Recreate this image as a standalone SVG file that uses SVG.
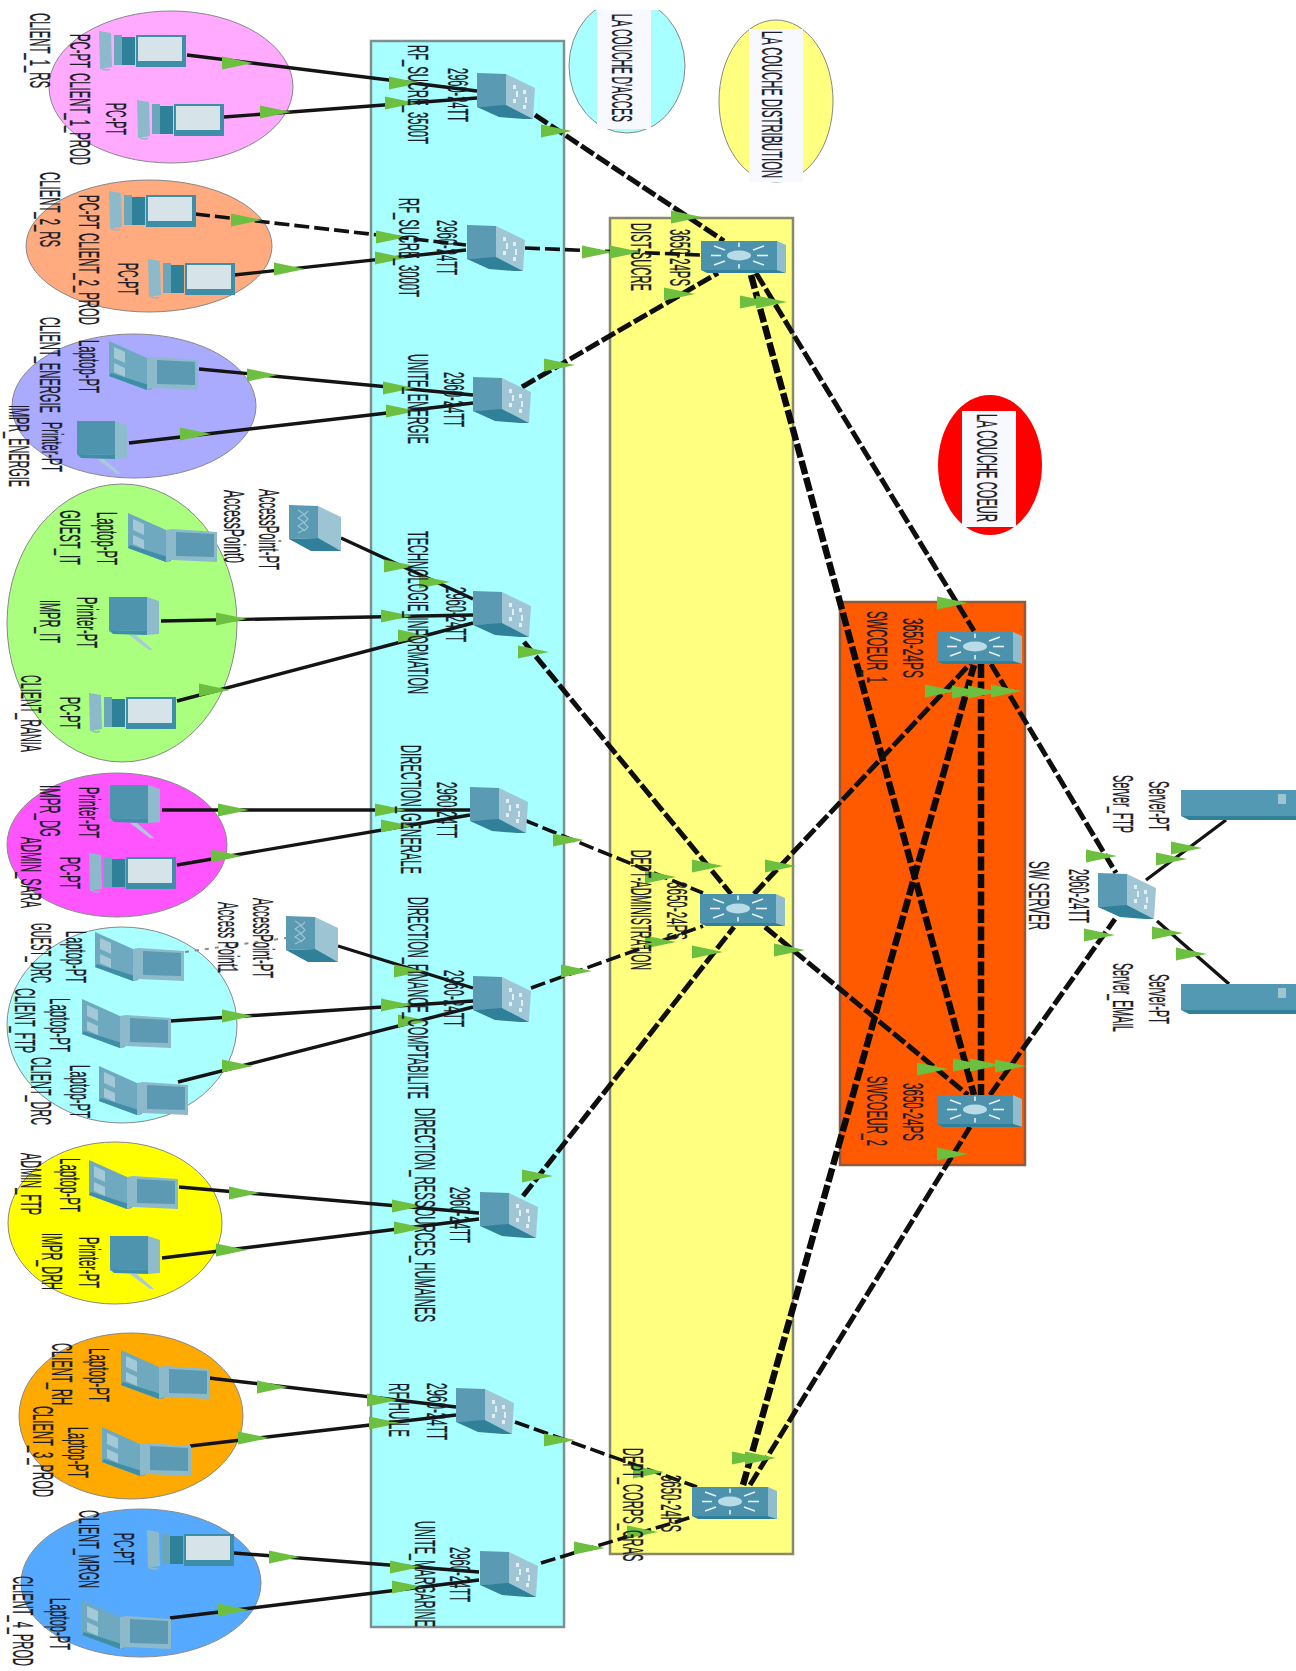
<svg xmlns="http://www.w3.org/2000/svg" width="1296" height="1671" viewBox="0 0 1296 1671">
<style>
text{font-family:"Liberation Sans",Arial,sans-serif;font-size:29px;fill:#1c1c28;stroke:#1c1c28;stroke-width:.3}
.z{stroke-width:2.5}
.e{stroke:#888;stroke-width:1}
.s{stroke:#141414;stroke-width:3.4;fill:none}
.d{stroke:#0f0f0f;stroke-width:5;fill:none;stroke-dasharray:15 3.5}
.t{stroke:#111;stroke-width:3.6;fill:none;stroke-dasharray:15 5}
.h{stroke:#0a0a0a;stroke-width:6.5;fill:none;stroke-dasharray:14 3.5}
.b{fill:#f8f8ff}
</style>
<defs>
<polygon id="t" points="0,-6.5 31,0 0,6.5" fill="#6cbf3f"/>
<g id="sw">
<polygon points="0,0 29,1 29,33 0,34" fill="#5a9ab3"/>
<polygon points="29,1 58,15 56,46 29,32" fill="#a0c6d5"/>
<polygon points="0,34 29,32 56,46 47,46 22,44" fill="#2f8098"/>
<g fill="#e4eff4"><rect x="36" y="12" width="3" height="4"/><rect x="46" y="17" width="3" height="4"/><rect x="36" y="26" width="3" height="4"/><rect x="46" y="32" width="3" height="4"/><rect x="39" y="18" width="2" height="6"/><rect x="48" y="24" width="2" height="6"/></g>
</g>
<g id="l3">
<rect x="0" y="0" width="76" height="29" fill="#4c92ad"/>
<polygon points="76,0 85,4 85,32 76,29" fill="#8fbdcc"/>
<polygon points="0,29 76,29 85,32 6,32" fill="#2f8098"/>
<ellipse cx="38" cy="14.5" rx="12" ry="5" fill="#b9dbe6"/>
<g stroke="#e6f1f5" stroke-width="1.6"><line x1="38" y1="1.5" x2="38" y2="6"/><line x1="38" y1="23" x2="38" y2="27.5"/><line x1="10" y1="14.5" x2="20" y2="14.5"/><line x1="56" y1="14.5" x2="67" y2="14.5"/><line x1="13" y1="5" x2="24" y2="9"/><line x1="63" y1="5" x2="52" y2="9"/><line x1="13" y1="24" x2="24" y2="20"/><line x1="63" y1="24" x2="52" y2="20"/></g>
</g>
<g id="pc">
<polygon points="0,0 12,2 13,36 1,38" fill="#8dbacb"/>
<rect x="15" y="4" width="8" height="30" fill="#6aa7bb"/>
<rect x="23" y="6" width="13" height="28" fill="#2f8199"/>
<rect x="37" y="4" width="50" height="32" fill="#3f8ea8"/>
<rect x="39" y="6" width="44" height="24" fill="#d6e4ea"/>
<path d="M3 38q6 2 8 0" stroke="#8dbacb" stroke-width="1.5" fill="none"/>
</g>
<g id="lp">
<polygon points="0,0 38,17 38,49 0,35" fill="#6ea9bf"/>
<polygon points="5,6 16,11 16,22 5,17" fill="#a4c9d6"/>
<polygon points="5,22 16,27 16,36 5,31" fill="#a4c9d6"/>
<polygon points="0,35 38,49 43,48 43,45 2,32" fill="#3f8ea8"/>
<polygon points="38,17 44,16 44,47 38,49" fill="#8dbacb"/>
<polygon points="44,16 89,19 89,49 44,47" fill="#8dbacb"/>
<polygon points="48,19 86,21 86,44 48,43" fill="#5b9ab2"/>
</g>
<g id="pr">
<polygon points="0,0 38,0 50,4 50,37 38,38 0,35" fill="#8fbccc"/>
<polygon points="0,0 38,0 38,34 0,33" fill="#4f94ae"/>
<polygon points="0,33 38,34 38,38 4,37" fill="#3f8ea8"/>
<polygon points="20,38 27,38 44,53 40,53" fill="#a8cbd7"/>
</g>
<g id="ap">
<polygon points="0,0 29,1 29,33 0,34" fill="#5a9ab3"/>
<polygon points="29,1 52,12 52,46 29,34" fill="#9cc4d3"/>
<polygon points="0,34 29,33 52,46 22,46" fill="#2f8098"/>
<path d="M9 5l6 4-6 4 6 4-6 4 6 4-6 3M19 6l-4 4 4 4-4 4 4 4-4 4" stroke="#9cc4d3" stroke-width="1.2" fill="none"/>
</g>
<g id="sv">
<rect x="0" y="0" width="115" height="26" fill="#5499b3"/>
<polygon points="0,26 115,26 115,30 8,30" fill="#2f8098"/>
<rect x="97" y="4" width="8" height="10" fill="#9cc4d3"/>
</g>
</defs>

<g id="zones">
<rect class="z" x="371" y="41" width="193" height="1586" fill="#a8ffff" stroke="#7f9090"/>
<rect class="z" x="610" y="218" width="183" height="1336" fill="#ffff80" stroke="#88886a"/>
<rect class="z" x="840" y="602" width="185" height="563" fill="#ff5a00" stroke="#925a3a"/>
</g>

<g id="groups">
<ellipse class="e" cx="171" cy="87" rx="122" ry="76" fill="#ffaaff"/>
<ellipse class="e" cx="149" cy="246" rx="123" ry="66" fill="#ffaa7f"/>
<ellipse class="e" cx="134" cy="406" rx="122" ry="72" fill="#aaaaff"/>
<ellipse class="e" cx="122" cy="623" rx="115" ry="139" fill="#aaff7f"/>
<ellipse class="e" cx="117" cy="845" rx="110" ry="72" fill="#ff55ff"/>
<ellipse class="e" cx="122" cy="1025" rx="115" ry="98" fill="#aaffff"/>
<ellipse class="e" cx="115" cy="1223" rx="107" ry="81" fill="#ffff00"/>
<ellipse class="e" cx="131" cy="1416" rx="112" ry="83" fill="#ffaa00"/>
<ellipse class="e" cx="141" cy="1583" rx="120" ry="74" fill="#55aaff"/>
</g>

<g id="legend-access">
<ellipse class="e" cx="627" cy="66" rx="58" ry="67" fill="#a8ffff"/>
<rect x="560" y="0" width="130" height="10" fill="#fff"/>
<rect class="b" x="597" y="10" width="54" height="119"/>
<text transform="translate(612 14) rotate(90)" textLength="108" lengthAdjust="spacingAndGlyphs">LA COUCHE D'ACCES</text>
</g>
<g id="legend-distribution">
<ellipse class="e" cx="776" cy="101" rx="57" ry="81" fill="#ffff80"/>
<rect class="b" x="749" y="29" width="54" height="153"/>
<text transform="translate(762 31) rotate(90)" textLength="147" lengthAdjust="spacingAndGlyphs">LA COUCHE DISTRIBUTION</text>
</g>
<g id="legend-core">
<ellipse cx="990" cy="465" rx="52" ry="70" fill="#ff0000"/>
<rect class="b" x="962" y="411" width="54" height="116"/>
<text transform="translate(977 414) rotate(90)" textLength="108" lengthAdjust="spacingAndGlyphs">LA COUCHE COEUR</text>
</g>

<g id="connectors">
<line class="s" x1="187" y1="55" x2="477" y2="91"/>
<line class="s" x1="224" y1="117" x2="477" y2="98"/>
<line class="t" x1="195" y1="214" x2="466" y2="245"/>
<line class="s" x1="234" y1="275" x2="466" y2="250"/>
<line class="s" x1="199" y1="369" x2="473" y2="395"/>
<line class="s" x1="129" y1="443" x2="473" y2="403"/>
<line class="s" x1="341" y1="538" x2="473" y2="599"/>
<line class="s" x1="161" y1="621" x2="473" y2="615"/>
<line class="s" x1="177" y1="701" x2="473" y2="623"/>
<line class="s" x1="162" y1="810" x2="470" y2="810"/>
<line class="s" x1="177" y1="865" x2="470" y2="815"/>
<line class="s" x1="338" y1="946" x2="473" y2="988"/>
<line class="s" x1="170" y1="1021" x2="473" y2="1001"/>
<line class="s" x1="178" y1="1082" x2="473" y2="1007"/>
<line class="s" x1="179" y1="1187" x2="479" y2="1213"/>
<line class="s" x1="162" y1="1258" x2="479" y2="1219"/>
<line class="s" x1="209" y1="1378" x2="456" y2="1407"/>
<line class="s" x1="190" y1="1446" x2="456" y2="1415"/>
<line class="s" x1="234" y1="1553" x2="479" y2="1572"/>
<line class="s" x1="170" y1="1618" x2="479" y2="1580"/>
<line class="s" x1="1146" y1="880" x2="1226" y2="820"/>
<line class="s" x1="1157" y1="921" x2="1229" y2="984"/>
<line x1="185" y1="952" x2="286" y2="938" stroke="#8a8a8a" stroke-width="2" stroke-dasharray="4 6"/>
<line class="d" x1="535" y1="115" x2="724" y2="241"/>
<line class="t" x1="525" y1="248" x2="701" y2="255"/>
<line class="d" x1="522" y1="387" x2="718" y2="273"/>
<line class="d" x1="524" y1="642" x2="731" y2="894"/>
<line class="t" x1="524" y1="820" x2="703" y2="893"/>
<line class="t" x1="531" y1="988" x2="703" y2="926"/>
<line class="d" x1="523" y1="1196" x2="734" y2="927"/>
<line class="t" x1="515" y1="1422" x2="697" y2="1487"/>
<line class="t" x1="541" y1="1563" x2="692" y2="1517"/>
<line class="d" x1="756" y1="273" x2="974" y2="631"/>
<line class="h" x1="751" y1="275" x2="974" y2="1095"/>
<line class="d" x1="754" y1="894" x2="970" y2="664"/>
<line class="d" x1="765" y1="927" x2="968" y2="1095"/>
<line class="h" x1="743" y1="1485" x2="974" y2="665"/>
<line class="d" x1="750" y1="1485" x2="970" y2="1127"/>
<line class="h" x1="981" y1="664" x2="981" y2="1095"/>
<line class="d" x1="991" y1="664" x2="1116" y2="873"/>
<line class="d" x1="990" y1="1095" x2="1115" y2="919"/>
<g id="link-lights">
<use href="#t" x="222" y="63"/><use href="#t" x="389" y="83"/><use href="#t" x="260" y="112"/><use href="#t" x="385" y="103"/><use href="#t" x="541" y="131"/><use href="#t" x="671" y="217"/>
<use href="#t" x="231" y="220"/><use href="#t" x="376" y="237"/><use href="#t" x="274" y="269"/><use href="#t" x="375" y="258"/><use href="#t" x="582" y="252"/><use href="#t" x="610" y="252"/>
<use href="#t" x="664" y="294"/><use href="#t" x="740" y="302"/><use href="#t" x="756" y="302"/><use href="#t" x="544" y="365"/><use href="#t" x="247" y="375"/><use href="#t" x="383" y="388"/>
<use href="#t" x="180" y="434"/><use href="#t" x="386" y="411"/><use href="#t" x="384" y="566"/><use href="#t" x="419" y="582"/><use href="#t" x="216" y="619"/><use href="#t" x="381" y="616"/>
<use href="#t" x="398" y="636"/><use href="#t" x="199" y="690"/><use href="#t" x="518" y="652"/><use href="#t" x="218" y="810"/><use href="#t" x="375" y="810"/><use href="#t" x="211" y="856"/>
<use href="#t" x="381" y="826"/><use href="#t" x="553" y="840"/><use href="#t" x="394" y="971"/><use href="#t" x="222" y="1016"/><use href="#t" x="381" y="1005"/><use href="#t" x="561" y="971"/>
<use href="#t" x="222" y="1066"/><use href="#t" x="398" y="1021"/><use href="#t" x="522" y="1176"/><use href="#t" x="229" y="1193"/><use href="#t" x="392" y="1206"/><use href="#t" x="216" y="1250"/>
<use href="#t" x="394" y="1228"/><use href="#t" x="257" y="1387"/><use href="#t" x="367" y="1400"/><use href="#t" x="238" y="1438"/><use href="#t" x="369" y="1423"/><use href="#t" x="544" y="1440"/>
<use href="#t" x="633" y="1472"/><use href="#t" x="269" y="1557"/><use href="#t" x="390" y="1567"/><use href="#t" x="218" y="1610"/><use href="#t" x="392" y="1587"/><use href="#t" x="574" y="1548"/>
<use href="#t" x="627" y="1532"/><use href="#t" x="732" y="1458"/><use href="#t" x="745" y="1458"/><use href="#t" x="937" y="603"/><use href="#t" x="925" y="691"/><use href="#t" x="952" y="692"/>
<use href="#t" x="968" y="692"/><use href="#t" x="991" y="691"/><use href="#t" x="1086" y="856"/><use href="#t" x="1171" y="848"/><use href="#t" x="1156" y="859"/><use href="#t" x="692" y="866"/>
<use href="#t" x="765" y="866"/><use href="#t" x="645" y="877"/><use href="#t" x="645" y="942"/><use href="#t" x="692" y="952"/><use href="#t" x="774" y="950"/><use href="#t" x="1084" y="935"/>
<use href="#t" x="1152" y="933"/><use href="#t" x="1176" y="954"/><use href="#t" x="917" y="1069"/><use href="#t" x="953" y="1065"/><use href="#t" x="970" y="1065"/><use href="#t" x="995" y="1066"/>
<use href="#t" x="937" y="1154"/>
</g>
</g>

<g id="client-1-rs"><use href="#pc" x="99" y="31"/><text transform="translate(30 13) rotate(90)" textLength="75" lengthAdjust="spacingAndGlyphs">CLIENT_1_RS</text><text transform="translate(70 34) rotate(90)" textLength="34" lengthAdjust="spacingAndGlyphs">PC-PT</text></g>
<g id="client-1-prod"><use href="#pc" x="137" y="100"/><text transform="translate(70 73) rotate(90)" textLength="92" lengthAdjust="spacingAndGlyphs">CLIENT_1_PROD</text><text transform="translate(106 103) rotate(90)" textLength="32" lengthAdjust="spacingAndGlyphs">PC-PT</text></g>
<g id="client-2-rs"><use href="#pc" x="109" y="191"/><text transform="translate(40 172) rotate(90)" textLength="75" lengthAdjust="spacingAndGlyphs">CLIENT_2_RS</text><text transform="translate(79 195) rotate(90)" textLength="34" lengthAdjust="spacingAndGlyphs">PC-PT</text></g>
<g id="client-2-prod"><use href="#pc" x="148" y="259"/><text transform="translate(79 233) rotate(90)" textLength="92" lengthAdjust="spacingAndGlyphs">CLIENT_2_PROD</text><text transform="translate(118 263) rotate(90)" textLength="32" lengthAdjust="spacingAndGlyphs">PC-PT</text></g>
<g id="client-energie"><use href="#lp" x="109" y="341"/><text transform="translate(40 317) rotate(90)" textLength="96" lengthAdjust="spacingAndGlyphs">CLIENT_ENERGIE</text><text transform="translate(79 340) rotate(90)" textLength="53" lengthAdjust="spacingAndGlyphs">Laptop-PT</text></g>
<g id="impr-energie"><use href="#pr" x="77" y="421"/><text transform="translate(42 422) rotate(90)" textLength="50" lengthAdjust="spacingAndGlyphs">Printer-PT</text><text transform="translate(9 405) rotate(90)" textLength="82" lengthAdjust="spacingAndGlyphs">IMPR_ENERGIE</text></g>
<g id="ap0"><use href="#ap" x="289" y="505"/><text transform="translate(259 489) rotate(90)" textLength="81" lengthAdjust="spacingAndGlyphs">AccessPoint-PT</text><text transform="translate(224 490) rotate(90)" textLength="73" lengthAdjust="spacingAndGlyphs">AccessPoint0</text></g>
<g id="guest-it"><use href="#lp" x="128" y="513"/><text transform="translate(97 512) rotate(90)" textLength="53" lengthAdjust="spacingAndGlyphs">Laptop-PT</text><text transform="translate(60 510) rotate(90)" textLength="55" lengthAdjust="spacingAndGlyphs">GUEST_IT</text></g>
<g id="impr-it"><use href="#pr" x="109" y="597"/><text transform="translate(77 597) rotate(90)" textLength="51" lengthAdjust="spacingAndGlyphs">Printer-PT</text><text transform="translate(40 600) rotate(90)" textLength="43" lengthAdjust="spacingAndGlyphs">IMPR_IT</text></g>
<g id="client-rania"><use href="#pc" x="89" y="693"/><text transform="translate(60 697) rotate(90)" textLength="32" lengthAdjust="spacingAndGlyphs">PC-PT</text><text transform="translate(21 675) rotate(90)" textLength="77" lengthAdjust="spacingAndGlyphs">CLIENT_RANIA</text></g>
<g id="impr-dg"><use href="#pr" x="110" y="785"/><text transform="translate(79 787) rotate(90)" textLength="51" lengthAdjust="spacingAndGlyphs">Printer-PT</text><text transform="translate(40 785) rotate(90)" textLength="52" lengthAdjust="spacingAndGlyphs">IMPR_DG</text></g>
<g id="admin-sara"><use href="#pc" x="89" y="853"/><text transform="translate(60 857) rotate(90)" textLength="32" lengthAdjust="spacingAndGlyphs">PC-PT</text><text transform="translate(21 837) rotate(90)" textLength="71" lengthAdjust="spacingAndGlyphs">ADMIN_SARA</text></g>
<g id="ap1"><use href="#ap" x="286" y="916"/><text transform="translate(253 898) rotate(90)" textLength="80" lengthAdjust="spacingAndGlyphs">AccessPoint-PT</text><text transform="translate(218 902) rotate(90)" textLength="71" lengthAdjust="spacingAndGlyphs">Access Point1</text></g>
<g id="guest-drc"><use href="#lp" x="95" y="932"/><text transform="translate(66 931) rotate(90)" textLength="52" lengthAdjust="spacingAndGlyphs">Laptop-PT</text><text transform="translate(31 923) rotate(90)" textLength="60" lengthAdjust="spacingAndGlyphs">GUEST_DRC</text></g>
<g id="client-ftp"><use href="#lp" x="82" y="999"/><text transform="translate(50 998) rotate(90)" textLength="54" lengthAdjust="spacingAndGlyphs">Laptop-PT</text><text transform="translate(15 988) rotate(90)" textLength="65" lengthAdjust="spacingAndGlyphs">CLIENT_FTP</text></g>
<g id="client-drc"><use href="#lp" x="99" y="1066"/><text transform="translate(70 1065) rotate(90)" textLength="53" lengthAdjust="spacingAndGlyphs">Laptop-PT</text><text transform="translate(31 1057) rotate(90)" textLength="68" lengthAdjust="spacingAndGlyphs">CLIENT_DRC</text></g>
<g id="admin-ftp"><use href="#lp" x="89" y="1160"/><text transform="translate(60 1158) rotate(90)" textLength="54" lengthAdjust="spacingAndGlyphs">Laptop-PT</text><text transform="translate(21 1153) rotate(90)" textLength="62" lengthAdjust="spacingAndGlyphs">ADMIN_FTP</text></g>
<g id="impr-drh"><use href="#pr" x="110" y="1236"/><text transform="translate(79 1237) rotate(90)" textLength="51" lengthAdjust="spacingAndGlyphs">Printer-PT</text><text transform="translate(42 1233) rotate(90)" textLength="57" lengthAdjust="spacingAndGlyphs">IMPR_DRH</text></g>
<g id="client-rh"><use href="#lp" x="121" y="1350"/><text transform="translate(89 1348) rotate(90)" textLength="54" lengthAdjust="spacingAndGlyphs">Laptop-PT</text><text transform="translate(52 1343) rotate(90)" textLength="62" lengthAdjust="spacingAndGlyphs">CLIENT_RH</text></g>
<g id="client-3-prod"><use href="#lp" x="102" y="1427"/><text transform="translate(68 1427) rotate(90)" textLength="51" lengthAdjust="spacingAndGlyphs">Laptop-PT</text><text transform="translate(33 1406) rotate(90)" textLength="91" lengthAdjust="spacingAndGlyphs">CLIENT_3_PROD</text></g>
<g id="client-mrgn"><use href="#pc" x="147" y="1530"/><text transform="translate(114 1533) rotate(90)" textLength="32" lengthAdjust="spacingAndGlyphs">PC-PT</text><text transform="translate(79 1510) rotate(90) scale(.376 1)">CLIENT_MRGN</text></g>
<g id="client-4-prod"><use href="#lp" x="82" y="1600"/><text transform="translate(50 1598) rotate(90) scale(.384 1)">Laptop-PT</text><text transform="translate(13 1576) rotate(90) scale(.383 1)">CLIENT_4_PROD</text></g>

<g id="sw-sucre-3500"><use href="#sw" x="477" y="73"/><text transform="translate(448 68) rotate(90)" textLength="54" lengthAdjust="spacingAndGlyphs">2960-24TT</text><text transform="translate(408 45) rotate(90)" textLength="99" lengthAdjust="spacingAndGlyphs">RF_SUCRE_3500T</text></g>
<g id="sw-sucre-3000"><use href="#sw" x="467" y="225"/><text transform="translate(437 220) rotate(90)" textLength="55" lengthAdjust="spacingAndGlyphs">2960-24TT</text><text transform="translate(399 198) rotate(90)" textLength="99" lengthAdjust="spacingAndGlyphs">RF_SUCRE_3000T</text></g>
<g id="sw-energie"><use href="#sw" x="473" y="377"/><text transform="translate(444 372) rotate(90)" textLength="55" lengthAdjust="spacingAndGlyphs">2960-24TT</text><text transform="translate(408 354) rotate(90)" textLength="90" lengthAdjust="spacingAndGlyphs">UNITE_ENERGIE</text></g>
<g id="sw-ti"><use href="#sw" x="473" y="591"/><text transform="translate(446 587) rotate(90)" textLength="55" lengthAdjust="spacingAndGlyphs">2960-24TT</text><text transform="translate(408 531) rotate(90)" textLength="163" lengthAdjust="spacingAndGlyphs">TECHNOLOGIE_INFORMATION</text></g>
<g id="sw-dg"><use href="#sw" x="470" y="787"/><text transform="translate(437 782) rotate(90)" textLength="56" lengthAdjust="spacingAndGlyphs">2960-24TT</text><text transform="translate(401 745) rotate(90)" textLength="129" lengthAdjust="spacingAndGlyphs">DIRECTION_GENERALE</text></g>
<g id="sw-df"><use href="#sw" x="473" y="976"/><text transform="translate(444 970) rotate(90)" textLength="57" lengthAdjust="spacingAndGlyphs">2960-24TT</text><text transform="translate(408 897) rotate(90)" textLength="202" lengthAdjust="spacingAndGlyphs">DIRECTION_FINANCE_COMPTABILITE</text></g>
<g id="sw-rh"><use href="#sw" x="480" y="1192"/><text transform="translate(450 1187) rotate(90)" textLength="56" lengthAdjust="spacingAndGlyphs">2960-24TT</text><text transform="translate(415 1108) rotate(90)" textLength="214" lengthAdjust="spacingAndGlyphs">DIRECTION_RESSOURCES_HUMAINES</text></g>
<g id="sw-huile"><use href="#sw" x="456" y="1388"/><text transform="translate(427 1383) rotate(90)" textLength="57" lengthAdjust="spacingAndGlyphs">2960-24TT</text><text transform="translate(389 1383) rotate(90)" textLength="54" lengthAdjust="spacingAndGlyphs">RF-HUILE</text></g>
<g id="sw-margarine"><use href="#sw" x="480" y="1551"/><text transform="translate(450 1547) rotate(90) scale(.388 1)">2960-24TT</text><text transform="translate(415 1521) rotate(90) scale(.38 1)">UNITE_MARGARINE</text></g>

<g id="dist-sucre"><use href="#l3" x="701" y="241"/><text transform="translate(631 223) rotate(90)" textLength="68" lengthAdjust="spacingAndGlyphs">DIST-SUCRE</text><text transform="translate(670 229) rotate(90)" textLength="57" lengthAdjust="spacingAndGlyphs">3650-24PS</text></g>
<g id="dept-administration"><use href="#l3" x="700" y="894"/><text transform="translate(631 850) rotate(90)" textLength="120" lengthAdjust="spacingAndGlyphs">DEPT-ADMINISTRATION</text><text transform="translate(667 882) rotate(90)" textLength="58" lengthAdjust="spacingAndGlyphs">3650-24PS</text></g>
<g id="dept-corps-gras"><use href="#l3" x="692" y="1487"/><text transform="translate(623 1448) rotate(90) scale(.385 1)">DEPT_CORPS_GRAS</text><text transform="translate(661 1475) rotate(90)" textLength="57" lengthAdjust="spacingAndGlyphs">3650-24PS</text></g>
<g id="swcoeur-1"><use href="#l3" x="937" y="632"/><text transform="translate(903 618) rotate(90)" textLength="60" lengthAdjust="spacingAndGlyphs">3650-24PS</text><text transform="translate(867 611) rotate(90)" textLength="72" lengthAdjust="spacingAndGlyphs">SWCOEUR_1</text></g>
<g id="swcoeur-2"><use href="#l3" x="937" y="1095"/><text transform="translate(903 1083) rotate(90)" textLength="58" lengthAdjust="spacingAndGlyphs">3650-24PS</text><text transform="translate(867 1076) rotate(90)" textLength="70" lengthAdjust="spacingAndGlyphs">SWCOEUR_2</text></g>
<g id="sw-server"><use href="#sw" x="1098" y="873"/><text transform="translate(1069 869) rotate(90)" textLength="54" lengthAdjust="spacingAndGlyphs">2960-24TT</text><text transform="translate(1029 861) rotate(90)" textLength="69" lengthAdjust="spacingAndGlyphs">SW SERVER</text></g>
<g id="server-ftp"><use href="#sv" x="1181" y="790"/><text transform="translate(1149 781) rotate(90)" textLength="50" lengthAdjust="spacingAndGlyphs">Server-PT</text><text transform="translate(1113 775) rotate(90)" textLength="58" lengthAdjust="spacingAndGlyphs">Server_FTP</text></g>
<g id="server-email"><use href="#sv" x="1181" y="984"/><text transform="translate(1149 974) rotate(90)" textLength="50" lengthAdjust="spacingAndGlyphs">Server-PT</text><text transform="translate(1113 963) rotate(90)" textLength="69" lengthAdjust="spacingAndGlyphs">Server_EMAIL</text></g>
</svg>
